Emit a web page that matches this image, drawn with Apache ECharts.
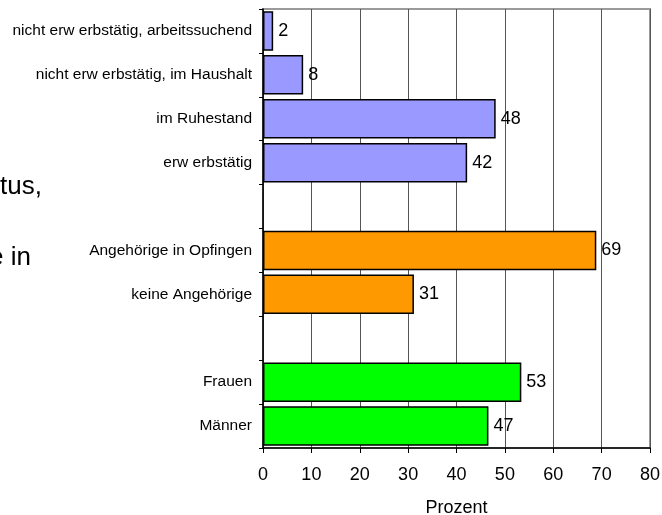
<!DOCTYPE html>
<html>
<head>
<meta charset="utf-8">
<script src="https://cdn.jsdelivr.net/npm/echarts@6/dist/echarts.min.js"></script>
<style>html,body{margin:0;padding:0;background:#fff;}#c{width:662px;height:515px;}</style>
</head>
<body>
<div id="c"></div>
<script>
var categories = ['nicht erw erbstätig, arbeitssuchend', 'nicht erw erbstätig, im Haushalt', 'im Ruhestand', 'erw erbstätig', ' ', 'Angehörige in Opfingen', 'keine Angehörige', '  ', 'Frauen', 'Männer'];
var values = [2.1, 8.3, 48.1, 42.2, null, 68.9, 31.2, null, 53.4, 46.6];
var groups = ['status', 'status', 'status', 'status', null, 'angeh', 'angeh', null, 'sex', 'sex'];
var groupColors = { status: '#9999FF', angeh: '#FF9900', sex: '#00FF00' };
var xTicks = [0, 10, 20, 30, 40, 50, 60, 70, 80];
var xName = 'Prozent';
var fragments = ['tus,', 'e in'];

var font = 'Liberation Sans, Arial, sans-serif';
var chart = echarts.init(document.getElementById('c'), null, { renderer: 'canvas' });
var data = values.map(function (v, i) {
  if (v === null) return '-';
  return { value: v, itemStyle: { color: groupColors[groups[i]] } };
});
chart.setOption({
  animation: false,
  backgroundColor: '#fff',
  textStyle: { fontFamily: font },
  grid: { left: 263, right: 12, top: 9, bottom: 67, show: true, borderColor: '#9a9a9a', borderWidth: 2, containLabel: false, outerBoundsMode: 'none' },
  xAxis: {
    type: 'value', min: xTicks[0], max: xTicks[xTicks.length - 1], interval: 10,
    name: xName, nameLocation: 'middle', nameGap: 51,
    nameTextStyle: { fontSize: 18, color: '#000', fontFamily: font },
    axisLine: { show: true, lineStyle: { color: '#000', width: 1.5 } },
    axisTick: { show: true, length: 5, lineStyle: { color: '#000' } },
    axisLabel: { fontSize: 18, color: '#000', margin: 18, fontFamily: font },
    splitLine: { show: true, lineStyle: { color: '#555', width: 1 } }
  },
  yAxis: {
    type: 'category', data: categories, inverse: true,
    axisLine: { show: true, lineStyle: { color: '#000', width: 1.5 } },
    axisTick: { show: true, length: 4, lineStyle: { color: '#000' } },
    axisLabel: { fontSize: 15.5, color: '#000', margin: 11, fontFamily: font },
    splitLine: { show: false }
  },
  series: [{
    type: 'bar', data: data, barCategoryGap: '10%',
    itemStyle: { borderColor: '#000', borderWidth: 1.5 },
    label: { show: true, position: 'right', distance: 5, fontSize: 18, color: '#000', fontFamily: font,
      formatter: function (p) { return Math.round(p.value); } }
  }],
  graphic: [
    { type: 'text', left: 0, top: 174, style: { text: fragments[0], fontSize: 26, fill: '#000', fontFamily: font } },
    { type: 'text', x: -11, y: 245, style: { text: fragments[1], fontSize: 26, fill: '#000', fontFamily: font } }
  ]
});
</script>
</body>
</html>
